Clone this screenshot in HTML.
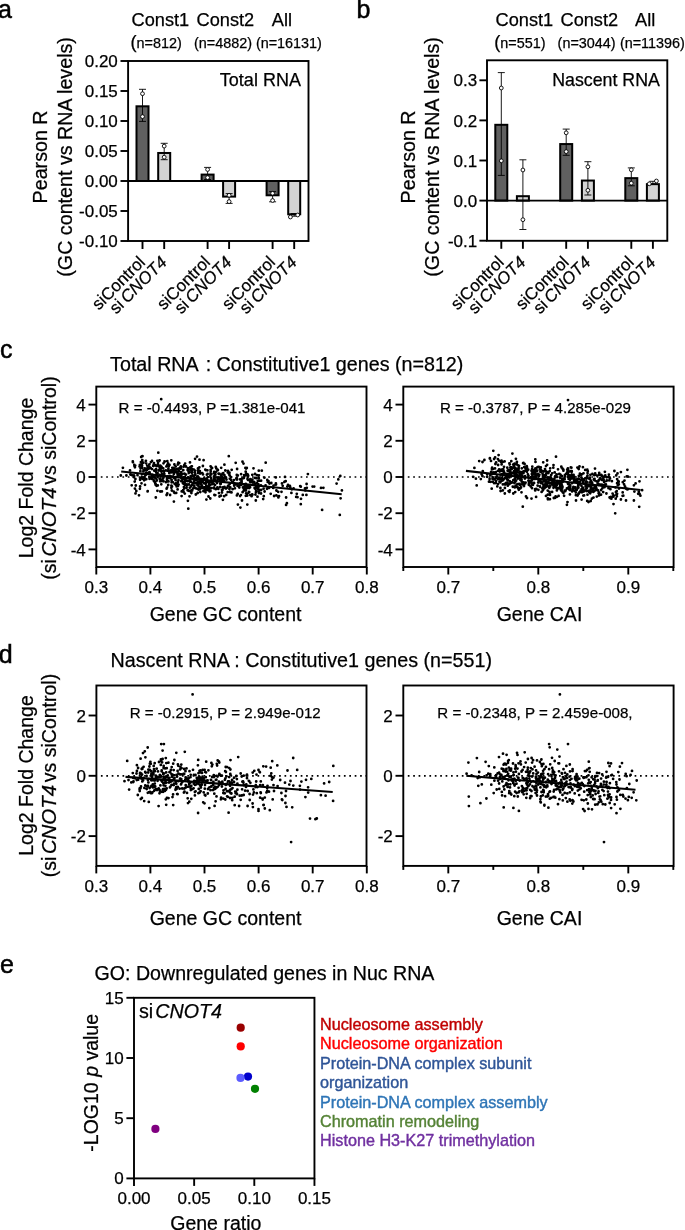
<!DOCTYPE html>
<html><head><meta charset="utf-8"><style>
html,body{margin:0;padding:0;background:#fff;}
body{width:685px;height:1230px;overflow:hidden;}
svg{display:block;font-family:"Liberation Sans", sans-serif;will-change:transform;}
text{stroke:#000;stroke-width:0.25px;}
text.L{stroke-width:0.5px;}
text.G{stroke-width:0.4px;}
</style></head><body>
<svg width="685" height="1230" viewBox="0 0 685 1230">
<rect width="685" height="1230" fill="#fff"/>
<g stroke="#000" fill="none" stroke-width="1.9">
<rect x="128.10" y="61.00" width="180.40" height="180.00"/>
</g>
<line x1="120.50" y1="61.00" x2="128.10" y2="61.00" stroke-width="1.9" stroke="#000"/>
<text x="117.80" y="67.10" font-size="17" text-anchor="end">0.20</text>
<line x1="120.50" y1="91.00" x2="128.10" y2="91.00" stroke-width="1.9" stroke="#000"/>
<text x="117.80" y="97.10" font-size="17" text-anchor="end">0.15</text>
<line x1="120.50" y1="121.00" x2="128.10" y2="121.00" stroke-width="1.9" stroke="#000"/>
<text x="117.80" y="127.10" font-size="17" text-anchor="end">0.10</text>
<line x1="120.50" y1="151.00" x2="128.10" y2="151.00" stroke-width="1.9" stroke="#000"/>
<text x="117.80" y="157.10" font-size="17" text-anchor="end">0.05</text>
<line x1="120.50" y1="181.00" x2="128.10" y2="181.00" stroke-width="1.9" stroke="#000"/>
<text x="117.80" y="187.10" font-size="17" text-anchor="end">0.00</text>
<line x1="120.50" y1="211.00" x2="128.10" y2="211.00" stroke-width="1.9" stroke="#000"/>
<text x="117.80" y="217.10" font-size="17" text-anchor="end">-0.05</text>
<line x1="120.50" y1="241.00" x2="128.10" y2="241.00" stroke-width="1.9" stroke="#000"/>
<text x="117.80" y="247.10" font-size="17" text-anchor="end">-0.10</text>
<rect x="136.50" y="106.30" width="12.0" height="74.70" fill="#606060" stroke="#000" stroke-width="2.0"/>
<line x1="142.50" y1="89.30" x2="142.50" y2="121.40" stroke-width="0.9" stroke="#000"/>
<line x1="139.00" y1="89.30" x2="146.00" y2="89.30" stroke-width="0.9" stroke="#000"/>
<line x1="139.00" y1="121.40" x2="146.00" y2="121.40" stroke-width="0.9" stroke="#000"/>
<circle cx="142.50" cy="93.70" r="1.9" fill="#fff" stroke="#000" stroke-width="0.9"/>
<circle cx="142.50" cy="116.60" r="1.9" fill="#fff" stroke="#000" stroke-width="0.9"/>
<rect x="158.20" y="152.98" width="12.0" height="28.02" fill="#d3d3d3" stroke="#000" stroke-width="2.0"/>
<line x1="164.20" y1="143.30" x2="164.20" y2="159.70" stroke-width="0.9" stroke="#000"/>
<line x1="160.70" y1="143.30" x2="167.70" y2="143.30" stroke-width="0.9" stroke="#000"/>
<line x1="160.70" y1="159.70" x2="167.70" y2="159.70" stroke-width="0.9" stroke="#000"/>
<circle cx="164.20" cy="146.10" r="1.9" fill="#fff" stroke="#000" stroke-width="0.9"/>
<circle cx="164.20" cy="157.20" r="1.9" fill="#fff" stroke="#000" stroke-width="0.9"/>
<rect x="201.60" y="174.58" width="12.0" height="6.42" fill="#606060" stroke="#000" stroke-width="2.0"/>
<line x1="207.60" y1="167.40" x2="207.60" y2="179.50" stroke-width="0.9" stroke="#000"/>
<line x1="204.10" y1="167.40" x2="211.10" y2="167.40" stroke-width="0.9" stroke="#000"/>
<line x1="204.10" y1="179.50" x2="211.10" y2="179.50" stroke-width="0.9" stroke="#000"/>
<circle cx="207.60" cy="169.50" r="1.9" fill="#fff" stroke="#000" stroke-width="0.9"/>
<circle cx="207.60" cy="177.60" r="1.9" fill="#fff" stroke="#000" stroke-width="0.9"/>
<rect x="223.10" y="181.00" width="12.0" height="15.60" fill="#d3d3d3" stroke="#000" stroke-width="2.0"/>
<line x1="229.10" y1="193.60" x2="229.10" y2="203.40" stroke-width="0.9" stroke="#000"/>
<line x1="225.60" y1="193.60" x2="232.60" y2="193.60" stroke-width="0.9" stroke="#000"/>
<line x1="225.60" y1="203.40" x2="232.60" y2="203.40" stroke-width="0.9" stroke="#000"/>
<circle cx="229.10" cy="195.30" r="1.9" fill="#fff" stroke="#000" stroke-width="0.9"/>
<circle cx="229.10" cy="201.60" r="1.9" fill="#fff" stroke="#000" stroke-width="0.9"/>
<rect x="266.60" y="181.00" width="12.0" height="14.28" fill="#606060" stroke="#000" stroke-width="2.0"/>
<line x1="272.60" y1="191.60" x2="272.60" y2="201.80" stroke-width="0.9" stroke="#000"/>
<line x1="269.10" y1="191.60" x2="276.10" y2="191.60" stroke-width="0.9" stroke="#000"/>
<line x1="269.10" y1="201.80" x2="276.10" y2="201.80" stroke-width="0.9" stroke="#000"/>
<circle cx="272.60" cy="193.30" r="1.9" fill="#fff" stroke="#000" stroke-width="0.9"/>
<circle cx="272.60" cy="200.50" r="1.9" fill="#fff" stroke="#000" stroke-width="0.9"/>
<rect x="288.20" y="181.00" width="12.0" height="33.30" fill="#d3d3d3" stroke="#000" stroke-width="2.0"/>
<line x1="294.20" y1="213.50" x2="294.20" y2="216.20" stroke-width="0.9" stroke="#000"/>
<line x1="290.70" y1="213.50" x2="297.70" y2="213.50" stroke-width="0.9" stroke="#000"/>
<line x1="290.70" y1="216.20" x2="297.70" y2="216.20" stroke-width="0.9" stroke="#000"/>
<circle cx="290.40" cy="217.00" r="1.9" fill="#fff" stroke="#000" stroke-width="0.9"/>
<circle cx="297.70" cy="215.00" r="1.9" fill="#fff" stroke="#000" stroke-width="0.9"/>
<line x1="128.10" y1="181.00" x2="308.50" y2="181.00" stroke-width="1.9" stroke="#000"/>
<line x1="142.50" y1="241.00" x2="142.50" y2="249.00" stroke-width="1.9" stroke="#000"/>
<text x="146.20" y="263.20" font-size="17" text-anchor="end" transform="rotate(-45 146.20 263.20)">siControl</text>
<line x1="164.20" y1="241.00" x2="164.20" y2="249.00" stroke-width="1.9" stroke="#000"/>
<text x="167.90" y="263.20" font-size="17" text-anchor="end" transform="rotate(-45 167.90 263.20)">si<tspan font-style="italic" dx="3">CNOT4</tspan></text>
<line x1="207.60" y1="241.00" x2="207.60" y2="249.00" stroke-width="1.9" stroke="#000"/>
<text x="211.30" y="263.20" font-size="17" text-anchor="end" transform="rotate(-45 211.30 263.20)">siControl</text>
<line x1="229.10" y1="241.00" x2="229.10" y2="249.00" stroke-width="1.9" stroke="#000"/>
<text x="232.80" y="263.20" font-size="17" text-anchor="end" transform="rotate(-45 232.80 263.20)">si<tspan font-style="italic" dx="3">CNOT4</tspan></text>
<line x1="272.60" y1="241.00" x2="272.60" y2="249.00" stroke-width="1.9" stroke="#000"/>
<text x="276.30" y="263.20" font-size="17" text-anchor="end" transform="rotate(-45 276.30 263.20)">siControl</text>
<line x1="294.20" y1="241.00" x2="294.20" y2="249.00" stroke-width="1.9" stroke="#000"/>
<text x="297.90" y="263.20" font-size="17" text-anchor="end" transform="rotate(-45 297.90 263.20)">si<tspan font-style="italic" dx="3">CNOT4</tspan></text>
<g stroke="#000" fill="none" stroke-width="1.9">
<rect x="487.00" y="60.30" width="180.30" height="180.50"/>
</g>
<line x1="479.40" y1="80.30" x2="487.00" y2="80.30" stroke-width="1.9" stroke="#000"/>
<text x="477.20" y="86.40" font-size="17" text-anchor="end">0.3</text>
<line x1="479.40" y1="120.40" x2="487.00" y2="120.40" stroke-width="1.9" stroke="#000"/>
<text x="477.20" y="126.50" font-size="17" text-anchor="end">0.2</text>
<line x1="479.40" y1="160.50" x2="487.00" y2="160.50" stroke-width="1.9" stroke="#000"/>
<text x="477.20" y="166.60" font-size="17" text-anchor="end">0.1</text>
<line x1="479.40" y1="200.60" x2="487.00" y2="200.60" stroke-width="1.9" stroke="#000"/>
<text x="477.20" y="206.70" font-size="17" text-anchor="end">0.0</text>
<line x1="479.40" y1="240.70" x2="487.00" y2="240.70" stroke-width="1.9" stroke="#000"/>
<text x="477.20" y="246.80" font-size="17" text-anchor="end">-0.1</text>
<rect x="495.30" y="124.81" width="12.0" height="75.79" fill="#606060" stroke="#000" stroke-width="2.0"/>
<line x1="501.30" y1="72.60" x2="501.30" y2="175.40" stroke-width="0.9" stroke="#000"/>
<line x1="497.80" y1="72.60" x2="504.80" y2="72.60" stroke-width="0.9" stroke="#000"/>
<line x1="497.80" y1="175.40" x2="504.80" y2="175.40" stroke-width="0.9" stroke="#000"/>
<circle cx="501.30" cy="88.00" r="1.9" fill="#fff" stroke="#000" stroke-width="0.9"/>
<circle cx="501.30" cy="160.80" r="1.9" fill="#fff" stroke="#000" stroke-width="0.9"/>
<rect x="516.90" y="196.19" width="12.0" height="4.41" fill="#d3d3d3" stroke="#000" stroke-width="2.0"/>
<line x1="522.90" y1="159.80" x2="522.90" y2="229.50" stroke-width="0.9" stroke="#000"/>
<line x1="519.40" y1="159.80" x2="526.40" y2="159.80" stroke-width="0.9" stroke="#000"/>
<line x1="519.40" y1="229.50" x2="526.40" y2="229.50" stroke-width="0.9" stroke="#000"/>
<circle cx="522.90" cy="170.00" r="1.9" fill="#fff" stroke="#000" stroke-width="0.9"/>
<circle cx="522.90" cy="219.70" r="1.9" fill="#fff" stroke="#000" stroke-width="0.9"/>
<rect x="560.20" y="144.06" width="12.0" height="56.54" fill="#606060" stroke="#000" stroke-width="2.0"/>
<line x1="566.20" y1="129.10" x2="566.20" y2="155.30" stroke-width="0.9" stroke="#000"/>
<line x1="562.70" y1="129.10" x2="569.70" y2="129.10" stroke-width="0.9" stroke="#000"/>
<line x1="562.70" y1="155.30" x2="569.70" y2="155.30" stroke-width="0.9" stroke="#000"/>
<circle cx="566.20" cy="132.80" r="1.9" fill="#fff" stroke="#000" stroke-width="0.9"/>
<circle cx="566.20" cy="151.60" r="1.9" fill="#fff" stroke="#000" stroke-width="0.9"/>
<rect x="581.90" y="180.55" width="12.0" height="20.05" fill="#d3d3d3" stroke="#000" stroke-width="2.0"/>
<line x1="587.90" y1="161.70" x2="587.90" y2="195.00" stroke-width="0.9" stroke="#000"/>
<line x1="584.40" y1="161.70" x2="591.40" y2="161.70" stroke-width="0.9" stroke="#000"/>
<line x1="584.40" y1="195.00" x2="591.40" y2="195.00" stroke-width="0.9" stroke="#000"/>
<circle cx="587.90" cy="166.80" r="1.9" fill="#fff" stroke="#000" stroke-width="0.9"/>
<circle cx="587.90" cy="190.30" r="1.9" fill="#fff" stroke="#000" stroke-width="0.9"/>
<rect x="625.30" y="178.14" width="12.0" height="22.46" fill="#606060" stroke="#000" stroke-width="2.0"/>
<line x1="631.30" y1="167.90" x2="631.30" y2="185.80" stroke-width="0.9" stroke="#000"/>
<line x1="627.80" y1="167.90" x2="634.80" y2="167.90" stroke-width="0.9" stroke="#000"/>
<line x1="627.80" y1="185.80" x2="634.80" y2="185.80" stroke-width="0.9" stroke="#000"/>
<circle cx="631.30" cy="169.80" r="1.9" fill="#fff" stroke="#000" stroke-width="0.9"/>
<circle cx="631.30" cy="183.20" r="1.9" fill="#fff" stroke="#000" stroke-width="0.9"/>
<rect x="646.90" y="184.16" width="12.0" height="16.44" fill="#d3d3d3" stroke="#000" stroke-width="2.0"/>
<line x1="652.90" y1="181.30" x2="652.90" y2="184.00" stroke-width="0.9" stroke="#000"/>
<line x1="649.40" y1="181.30" x2="656.40" y2="181.30" stroke-width="0.9" stroke="#000"/>
<line x1="649.40" y1="184.00" x2="656.40" y2="184.00" stroke-width="0.9" stroke="#000"/>
<circle cx="649.30" cy="183.80" r="1.9" fill="#fff" stroke="#000" stroke-width="0.9"/>
<circle cx="656.40" cy="181.00" r="1.9" fill="#fff" stroke="#000" stroke-width="0.9"/>
<line x1="487.00" y1="200.60" x2="667.30" y2="200.60" stroke-width="1.9" stroke="#000"/>
<line x1="501.30" y1="240.80" x2="501.30" y2="248.80" stroke-width="1.9" stroke="#000"/>
<text x="505.00" y="263.20" font-size="17" text-anchor="end" transform="rotate(-45 505.00 263.20)">siControl</text>
<line x1="522.90" y1="240.80" x2="522.90" y2="248.80" stroke-width="1.9" stroke="#000"/>
<text x="526.60" y="263.20" font-size="17" text-anchor="end" transform="rotate(-45 526.60 263.20)">si<tspan font-style="italic" dx="3">CNOT4</tspan></text>
<line x1="566.20" y1="240.80" x2="566.20" y2="248.80" stroke-width="1.9" stroke="#000"/>
<text x="569.90" y="263.20" font-size="17" text-anchor="end" transform="rotate(-45 569.90 263.20)">siControl</text>
<line x1="587.90" y1="240.80" x2="587.90" y2="248.80" stroke-width="1.9" stroke="#000"/>
<text x="591.60" y="263.20" font-size="17" text-anchor="end" transform="rotate(-45 591.60 263.20)">si<tspan font-style="italic" dx="3">CNOT4</tspan></text>
<line x1="631.30" y1="240.80" x2="631.30" y2="248.80" stroke-width="1.9" stroke="#000"/>
<text x="635.00" y="263.20" font-size="17" text-anchor="end" transform="rotate(-45 635.00 263.20)">siControl</text>
<line x1="652.90" y1="240.80" x2="652.90" y2="248.80" stroke-width="1.9" stroke="#000"/>
<text x="656.60" y="263.20" font-size="17" text-anchor="end" transform="rotate(-45 656.60 263.20)">si<tspan font-style="italic" dx="3">CNOT4</tspan></text>
<text x="-2.00" y="17.70" font-size="25" class="L">a</text>
<text x="356.50" y="17.90" font-size="25" class="L">b</text>
<text x="0.00" y="357.50" font-size="25" class="L">c</text>
<text x="-1.20" y="662.50" font-size="25" class="L">d</text>
<text x="0.00" y="972.90" font-size="25" class="L">e</text>
<text x="131.60" y="26.00" font-size="18.2">Const1</text>
<text x="196.60" y="26.00" font-size="18.2">Const2</text>
<text x="271.80" y="26.00" font-size="18.2">All</text>
<text x="130.50" y="48.10" font-size="14.4"><tspan font-size="18.2">(</tspan>n=812)</text>
<text x="194.00" y="48.10" font-size="14.4">(n=4882)</text>
<text x="255.90" y="48.10" font-size="14.4">(n=16131)</text>
<text x="495.60" y="26.00" font-size="18.2">Const1</text>
<text x="560.50" y="26.00" font-size="18.2">Const2</text>
<text x="635.00" y="26.00" font-size="18.2">All</text>
<text x="494.30" y="48.10" font-size="14.4"><tspan font-size="18.2">(</tspan>n=551)</text>
<text x="557.60" y="48.10" font-size="14.4">(n=3044)</text>
<text x="619.90" y="48.10" font-size="14.4">(n=11396)</text>
<text x="300.90" y="86.10" font-size="18" text-anchor="end">Total RNA</text>
<text x="659.90" y="86.40" font-size="17.8" text-anchor="end">Nascent RNA</text>
<text x="47.20" y="156.90" font-size="19.7" text-anchor="middle" transform="rotate(-90 47.20 156.90)" dominant-baseline="auto">Pearson R</text>
<text x="71.70" y="156.90" font-size="19.7" text-anchor="middle" transform="rotate(-90 71.70 156.90)" dominant-baseline="auto">(GC content vs RNA levels)</text>
<text x="414.90" y="156.90" font-size="19.7" text-anchor="middle" transform="rotate(-90 414.90 156.90)" dominant-baseline="auto">Pearson R</text>
<text x="439.40" y="156.90" font-size="19.7" text-anchor="middle" transform="rotate(-90 439.40 156.90)" dominant-baseline="auto">(GC content vs RNA levels)</text>
<line x1="100.80" y1="477.00" x2="366.50" y2="477.00" stroke="#000" stroke-width="1.7" stroke-dasharray="1.7 3.7"/>
<path d="M159.6 475.0h0M198.5 485.9h0M223.9 480.5h0M241.6 482.8h0M226.2 494.9h0M171.4 472.3h0M258.9 475.5h0M273.5 485.6h0M165.8 470.4h0M188.2 477.4h0M163.7 474.1h0M172.3 467.8h0M243.0 487.4h0M340.6 498.3h0M154.0 477.3h0M263.2 499.1h0M244.2 487.9h0M256.9 475.1h0M200.1 473.6h0M241.4 482.6h0M156.3 478.8h0M187.6 490.3h0M202.1 488.1h0M194.0 480.1h0M143.4 462.7h0M184.7 479.3h0M204.3 478.8h0M250.3 495.1h0M204.0 488.2h0M167.1 480.6h0M269.5 483.6h0M255.8 500.5h0M242.6 492.2h0M144.3 477.2h0M206.7 489.9h0M175.8 477.5h0M200.4 486.7h0M135.4 479.0h0M156.7 465.7h0M245.8 495.8h0M170.3 478.2h0M134.2 476.0h0M228.8 473.6h0M172.8 469.5h0M156.1 471.9h0M231.1 477.1h0M177.2 469.2h0M184.9 476.9h0M160.1 481.3h0M213.3 481.4h0M134.3 464.9h0M158.0 464.8h0M221.2 477.7h0M242.5 461.7h0M168.2 485.0h0M178.9 470.8h0M141.2 457.0h0M181.3 481.2h0M182.2 478.2h0M161.3 484.3h0M248.2 475.6h0M206.4 499.6h0M258.3 488.5h0M186.6 487.8h0M168.5 481.4h0M157.6 473.1h0M177.4 485.0h0M258.8 470.7h0M164.8 461.6h0M174.3 478.2h0M224.4 475.2h0M255.2 488.5h0M204.3 478.8h0M145.9 460.8h0M260.9 485.3h0M240.9 495.1h0M175.2 469.5h0M279.0 496.2h0M156.4 473.3h0M149.7 473.1h0M245.9 490.6h0M241.1 474.2h0M206.9 474.7h0M253.9 482.0h0M263.6 488.7h0M237.1 469.0h0M216.3 468.4h0M140.9 462.1h0M300.2 486.2h0M169.3 473.2h0M160.3 491.5h0M261.8 470.7h0M166.4 466.4h0M139.6 466.4h0M297.5 497.2h0M172.7 482.1h0M269.1 482.8h0M167.9 477.1h0M302.8 494.9h0M167.1 487.6h0M174.7 471.2h0M300.8 486.7h0M222.3 474.2h0M175.6 480.2h0M181.2 472.2h0M177.9 481.8h0M210.9 480.7h0M162.0 474.1h0M205.3 469.7h0M180.6 472.3h0M203.0 474.4h0M237.8 475.5h0M271.3 483.0h0M240.4 507.6h0M156.0 469.1h0M249.3 488.1h0M258.9 493.0h0M246.8 468.0h0M245.0 486.2h0M184.6 482.9h0M233.4 483.1h0M289.0 485.8h0M210.4 475.3h0M186.5 485.6h0M161.5 480.9h0M205.2 487.1h0M173.5 472.4h0M241.3 479.3h0M189.5 478.5h0M199.1 478.6h0M220.1 487.0h0M166.6 488.7h0M196.1 488.4h0M268.5 481.1h0M179.0 474.5h0M203.2 479.0h0M158.7 470.1h0M224.5 487.0h0M190.4 479.6h0M257.5 496.7h0M275.6 484.6h0M167.4 470.7h0M226.7 487.9h0M177.6 489.4h0M158.3 452.7h0M243.8 478.2h0M171.1 472.3h0M235.2 484.4h0M222.9 499.8h0M284.4 481.9h0M241.6 480.2h0M160.2 469.2h0M270.7 493.8h0M153.6 479.9h0M169.3 471.1h0M183.1 477.8h0M211.1 477.9h0M177.9 482.3h0M167.6 476.4h0M245.7 471.7h0M286.1 504.9h0M232.3 482.0h0M185.9 466.5h0M158.5 465.9h0M204.1 478.5h0M155.8 497.5h0M207.9 488.3h0M193.7 479.2h0M187.7 481.2h0M244.4 476.3h0M200.7 483.8h0M122.9 467.8h0M214.0 476.3h0M301.0 498.8h0M241.4 484.8h0M173.9 501.6h0M210.2 481.2h0M187.5 477.8h0M192.2 490.6h0M255.9 492.3h0M201.7 487.5h0M208.9 489.9h0M211.4 467.4h0M256.1 491.0h0M243.5 488.0h0M224.8 476.9h0M195.3 474.4h0M194.2 487.4h0M201.7 486.7h0M215.5 477.6h0M203.9 483.2h0M221.9 489.8h0M163.5 470.9h0M149.5 478.8h0M197.7 493.0h0M157.5 476.3h0M235.0 484.7h0M167.3 465.0h0M158.9 470.5h0M171.6 482.3h0M224.4 464.7h0M207.9 477.1h0M191.1 477.6h0M206.3 485.6h0M285.0 476.9h0M207.3 487.4h0M195.2 470.6h0M180.2 467.6h0M169.0 477.9h0M154.7 482.0h0M194.8 478.0h0M214.1 478.5h0M161.6 480.1h0M286.9 503.2h0M181.1 468.3h0M147.2 465.6h0M197.8 476.5h0M242.0 478.7h0M206.8 482.0h0M214.3 488.4h0M314.2 486.6h0M176.2 492.9h0M214.4 495.0h0M227.8 472.4h0M258.8 478.2h0M141.6 463.9h0M155.4 465.4h0M139.9 488.8h0M237.4 484.1h0M145.1 469.9h0M223.4 488.3h0M219.5 496.5h0M215.0 485.1h0M144.6 478.8h0M208.3 488.9h0M194.3 485.6h0M176.5 471.9h0M190.0 462.4h0M234.2 485.7h0M171.8 490.5h0M160.3 465.7h0M140.1 486.4h0M242.0 500.5h0M142.5 456.2h0M184.2 488.4h0M248.0 476.6h0M194.7 478.0h0M141.7 477.0h0M229.5 472.6h0M246.2 473.6h0M176.6 477.0h0M175.7 466.6h0M247.3 487.9h0M220.2 483.7h0M306.6 484.0h0M203.4 491.2h0M240.1 479.4h0M194.7 472.4h0M178.3 462.7h0M218.7 477.5h0M175.9 483.5h0M199.4 467.3h0M160.3 479.0h0M150.3 468.0h0M203.6 460.2h0M247.0 494.2h0M267.3 479.9h0M215.2 473.6h0M244.6 484.4h0M276.4 495.4h0M187.9 468.2h0M152.0 476.0h0M221.4 477.4h0M190.7 481.7h0M140.1 479.8h0M153.2 476.7h0M221.0 479.0h0M254.7 483.8h0M159.7 467.6h0M255.5 484.3h0M181.7 491.4h0M252.4 494.7h0M221.2 467.8h0M234.9 488.3h0M321.0 487.9h0M231.7 469.8h0M198.0 468.5h0M204.9 490.2h0M252.7 482.5h0M215.4 474.7h0M153.7 464.4h0M286.1 497.5h0M210.5 491.0h0M247.3 486.2h0M189.7 481.1h0M200.0 473.1h0M215.1 475.1h0M336.6 483.6h0M208.5 496.5h0M255.0 474.0h0M257.8 480.9h0M202.3 486.6h0M191.0 486.2h0M184.1 477.2h0M176.5 472.2h0M170.5 476.1h0M207.6 474.0h0M201.7 479.9h0M220.0 480.1h0M231.5 492.4h0M288.0 485.0h0M282.7 485.8h0M135.5 493.4h0M190.7 476.1h0M237.9 504.6h0M210.3 498.5h0M182.3 474.0h0M209.0 481.3h0M216.6 482.0h0M202.3 473.2h0M256.3 487.0h0M190.1 481.8h0M177.5 473.9h0M248.9 487.0h0M192.7 475.9h0M192.5 469.3h0M322.1 509.9h0M196.0 478.4h0M229.8 483.8h0M305.3 490.4h0M269.1 487.9h0M191.1 468.4h0M239.4 485.7h0M184.3 465.2h0M167.3 493.5h0M200.3 492.0h0M154.9 477.4h0M163.5 463.3h0M177.1 483.3h0M159.9 465.9h0M221.1 474.9h0M222.3 479.3h0M246.6 488.3h0M173.4 468.0h0M153.2 466.0h0M221.4 476.4h0M217.8 478.1h0M252.3 474.8h0M120.8 475.5h0M146.2 463.3h0M226.0 488.5h0M193.9 469.6h0M173.5 477.0h0M215.8 467.0h0M148.9 468.6h0M161.8 471.3h0M134.9 488.6h0M217.9 470.0h0M218.3 488.9h0M273.2 487.9h0M243.9 477.9h0M252.2 494.5h0M222.0 492.5h0M197.9 481.3h0M254.6 487.9h0M195.6 480.1h0M165.9 482.2h0M167.0 478.1h0M198.0 473.1h0M221.2 477.0h0M202.8 482.1h0M135.8 485.5h0M217.0 477.5h0M250.1 487.2h0M246.1 493.3h0M159.6 460.5h0M187.6 470.1h0M168.4 468.8h0M243.5 463.6h0M265.6 485.3h0M188.9 471.7h0M232.6 489.2h0M193.0 488.5h0M142.1 467.5h0M143.4 471.4h0M151.9 474.7h0M197.5 482.5h0M265.7 462.7h0M245.8 483.9h0M167.3 461.2h0M173.8 473.9h0M181.6 496.1h0M179.2 463.2h0M141.9 474.1h0M186.0 474.6h0M222.2 490.2h0M194.3 487.2h0M157.4 490.8h0M197.4 485.0h0M139.0 495.3h0M191.9 472.8h0M154.0 463.2h0M287.3 486.6h0M199.0 488.6h0M234.0 480.1h0M199.9 471.2h0M267.7 481.9h0M150.7 468.1h0M146.0 472.9h0M240.1 496.1h0M160.9 466.4h0M136.3 491.0h0M223.3 473.2h0M182.9 483.3h0M247.6 474.3h0M174.6 483.8h0M236.3 478.4h0M210.1 482.0h0M191.5 466.5h0M222.8 487.3h0M221.1 481.6h0M157.4 460.8h0M188.9 484.5h0M296.2 496.9h0M133.9 475.4h0M189.3 472.4h0M306.4 494.9h0M188.3 469.1h0M184.7 484.6h0M170.1 471.5h0M173.7 491.6h0M243.7 490.7h0M229.8 478.7h0M175.1 472.1h0M195.3 474.8h0M169.9 471.9h0M195.8 494.5h0M210.5 473.5h0M185.0 480.5h0M237.6 485.9h0M230.3 487.4h0M156.2 485.3h0M146.3 479.2h0M226.0 477.7h0M181.1 475.7h0M177.8 464.5h0M149.5 472.1h0M180.8 468.7h0M211.2 480.6h0M144.1 480.3h0M180.8 466.4h0M159.6 478.7h0M218.0 478.9h0M160.2 466.0h0M224.2 496.2h0M158.1 462.8h0M161.3 471.6h0M230.2 478.9h0M200.3 481.0h0M225.3 470.5h0M202.9 466.0h0M185.8 481.1h0M149.5 467.2h0M183.3 470.2h0M170.1 495.0h0M259.6 490.3h0M215.8 489.2h0M275.9 483.3h0M166.7 481.7h0M181.5 478.5h0M307.9 474.1h0M191.9 471.7h0M152.0 469.1h0M142.3 477.5h0M339.8 514.9h0M246.1 468.5h0M219.6 473.9h0M264.6 491.5h0M263.8 496.2h0M173.7 472.0h0M213.7 484.0h0M245.4 467.9h0M193.7 476.2h0M156.6 485.8h0M133.6 477.0h0M211.4 474.0h0M209.7 491.4h0M188.3 490.5h0M237.0 479.5h0M170.9 470.4h0M151.6 478.8h0M247.7 475.5h0M254.4 482.3h0M213.4 480.3h0M171.7 487.1h0M205.3 483.6h0M160.5 476.0h0M179.9 474.2h0M163.5 477.5h0M229.4 473.3h0M258.3 484.2h0M182.1 480.8h0M249.2 492.1h0M226.5 479.6h0M180.2 475.8h0M211.7 482.4h0M252.4 479.6h0M151.8 475.6h0M205.8 480.8h0M144.8 468.5h0M182.5 478.9h0M258.7 491.5h0M291.8 489.3h0M132.9 462.2h0M149.4 464.5h0M164.3 473.8h0M197.7 488.9h0M163.2 468.3h0M218.5 473.6h0M193.9 482.6h0M134.7 481.6h0M274.1 496.0h0M219.0 473.9h0M224.0 478.2h0M278.4 497.4h0M198.8 483.6h0M221.5 476.2h0M202.7 487.1h0M221.0 495.7h0M207.3 486.3h0M178.6 468.6h0M250.3 482.2h0M190.4 467.2h0M208.7 486.4h0M189.8 487.7h0M132.8 461.3h0M229.5 475.2h0M213.0 480.3h0M250.0 481.1h0M305.0 488.4h0M157.9 464.3h0M171.6 479.6h0M217.3 480.4h0M208.5 490.3h0M176.6 486.4h0M248.6 486.2h0M171.4 485.7h0M207.1 487.6h0M185.1 463.6h0M235.7 462.8h0M126.4 475.5h0M215.7 472.1h0M188.9 471.5h0M178.6 484.6h0M207.7 486.8h0M130.4 474.5h0M147.7 491.1h0M234.2 483.3h0M296.8 493.8h0M156.0 470.8h0M195.1 458.8h0M145.0 484.8h0M148.9 472.6h0M131.7 475.1h0M172.2 471.1h0M164.4 475.7h0M207.2 479.8h0M250.4 479.1h0M209.4 484.8h0M135.2 465.6h0M223.6 481.1h0M259.7 480.7h0M246.5 474.9h0M150.9 462.1h0M175.8 484.8h0M244.2 489.0h0M152.6 474.9h0M278.2 491.8h0M164.3 476.1h0M161.6 467.0h0M163.3 481.3h0M254.9 477.9h0M213.9 487.7h0M170.2 470.9h0M257.6 488.8h0M149.3 477.0h0M253.5 468.3h0M230.1 492.0h0M186.7 485.8h0M134.9 467.3h0M156.5 466.1h0M155.4 484.6h0M206.0 470.2h0M168.2 470.9h0M159.7 478.8h0M214.1 472.9h0M267.7 487.9h0M167.0 479.2h0M306.8 487.8h0M285.7 481.2h0M257.1 483.2h0M219.0 493.1h0M160.7 469.1h0M214.9 479.9h0M163.9 471.7h0M186.8 484.4h0M144.7 474.3h0M145.7 475.0h0M192.5 475.1h0M177.6 472.7h0M264.4 477.7h0M192.3 484.8h0M209.6 488.4h0M183.7 478.6h0M169.5 472.7h0M154.3 470.7h0M141.5 483.3h0M248.7 492.6h0M217.4 487.4h0M244.2 475.1h0M291.4 492.9h0M139.9 464.8h0M178.1 475.4h0M180.1 475.3h0M215.3 495.1h0M209.7 491.4h0M183.6 466.7h0M248.0 479.9h0M153.9 481.0h0M164.5 461.5h0M204.0 483.3h0M141.9 462.4h0M261.0 493.5h0M210.7 471.3h0M211.8 484.3h0M188.5 471.5h0M214.0 488.3h0M247.5 479.0h0M169.1 476.3h0M142.3 460.1h0M212.1 468.1h0M209.9 488.1h0M131.7 485.3h0M156.8 480.5h0M143.5 470.0h0M222.5 490.0h0M173.0 476.5h0M155.2 482.9h0M247.3 504.6h0M155.7 484.2h0M130.0 470.4h0M220.8 483.8h0M312.6 486.6h0M323.4 487.8h0M160.3 480.9h0M209.1 485.4h0M188.8 473.0h0M275.8 477.4h0M240.0 483.2h0M293.6 488.5h0M189.9 479.8h0M191.7 490.3h0M191.9 466.3h0M147.1 469.8h0M184.8 493.6h0M140.6 468.4h0M300.8 504.2h0M228.0 470.8h0M206.5 478.6h0M237.7 494.0h0M261.1 480.7h0M248.9 492.0h0M142.1 465.3h0M195.5 483.1h0M198.3 469.1h0M195.3 488.0h0M160.9 480.2h0M239.3 487.5h0M192.4 475.8h0M140.4 471.2h0M186.3 478.5h0M198.5 478.1h0M229.4 489.0h0M228.0 486.1h0M198.5 489.5h0M197.1 476.7h0M247.3 495.5h0M229.6 487.0h0M209.5 488.9h0M196.0 478.4h0M163.4 481.1h0M246.8 488.0h0M229.7 475.6h0M178.5 480.2h0M219.7 478.0h0M174.5 492.9h0M190.4 481.2h0M192.6 483.4h0M276.0 484.5h0M161.9 491.4h0M208.7 482.3h0M191.6 485.5h0M147.2 468.4h0M236.8 475.0h0M227.7 492.1h0M222.9 478.0h0M290.4 487.7h0M282.0 483.4h0M281.5 491.8h0M154.0 477.2h0M244.6 486.1h0M173.9 472.9h0M166.6 495.0h0M147.9 473.0h0M206.0 483.2h0M251.6 481.5h0M147.6 491.4h0M228.4 485.7h0M258.7 486.5h0M239.0 486.0h0M245.8 483.8h0M184.0 482.0h0M236.9 495.4h0M216.9 483.1h0M186.6 478.3h0M178.0 486.0h0M161.9 475.6h0M220.3 480.0h0M210.6 466.3h0M237.0 478.4h0M191.4 493.0h0M222.5 473.6h0M267.0 488.8h0M190.3 480.0h0M200.0 489.0h0M168.1 463.4h0M184.5 473.7h0M177.2 476.8h0M134.5 466.2h0M187.9 500.8h0M205.5 492.3h0M276.4 490.5h0M198.1 470.9h0M201.6 485.2h0M183.6 492.0h0M183.9 487.1h0M160.2 466.3h0M147.8 466.5h0M261.1 490.0h0M210.6 470.0h0M183.3 483.5h0M209.2 484.4h0M172.0 486.4h0M199.5 459.7h0M163.1 478.4h0M206.5 489.2h0M200.8 479.0h0M190.3 491.0h0M209.7 485.5h0M145.8 479.3h0M289.9 485.9h0M245.5 490.1h0M197.0 456.6h0M340.3 476.0h0M190.8 469.9h0M161.0 481.2h0M202.0 482.1h0M193.8 481.2h0M171.6 480.6h0M157.8 485.4h0M211.4 488.1h0M189.5 496.3h0M200.1 482.0h0M140.2 478.4h0M142.6 478.7h0M152.0 461.0h0M248.8 492.4h0M207.4 470.3h0M156.7 475.0h0M171.3 460.3h0M137.5 475.2h0M191.6 469.6h0M169.5 465.0h0M241.6 481.4h0M251.6 496.2h0M338.3 479.4h0M171.4 487.8h0M174.4 464.5h0M168.7 466.4h0M157.8 476.6h0M256.2 478.2h0M233.7 483.1h0M341.9 490.4h0M183.2 490.1h0M231.1 479.9h0M254.8 488.6h0M255.4 494.6h0M146.3 470.2h0M206.4 487.9h0M214.2 471.8h0M188.9 490.8h0M214.7 474.6h0M151.8 477.8h0M217.5 470.4h0M167.7 477.8h0M161.2 399.2h0M188.3 508.7h0M228.8 456.2h0" stroke="#000" stroke-width="2.8" stroke-linecap="round" fill="none"/>
<line x1="121.19" y1="471.57" x2="341.70" y2="494.19" stroke-width="2.1" stroke="#000"/>
<rect x="96.30" y="386.60" width="270.20" height="180.40" fill="none" stroke="#000" stroke-width="1.9"/>
<line x1="88.50" y1="404.60" x2="96.30" y2="404.60" stroke-width="1.9" stroke="#000"/>
<text x="85.80" y="410.70" font-size="17" text-anchor="end">4</text>
<line x1="88.50" y1="440.80" x2="96.30" y2="440.80" stroke-width="1.9" stroke="#000"/>
<text x="85.80" y="446.90" font-size="17" text-anchor="end">2</text>
<line x1="88.50" y1="477.00" x2="96.30" y2="477.00" stroke-width="1.9" stroke="#000"/>
<text x="85.80" y="483.10" font-size="17" text-anchor="end">0</text>
<line x1="88.50" y1="513.20" x2="96.30" y2="513.20" stroke-width="1.9" stroke="#000"/>
<text x="85.80" y="519.30" font-size="17" text-anchor="end">-2</text>
<line x1="88.50" y1="549.40" x2="96.30" y2="549.40" stroke-width="1.9" stroke="#000"/>
<text x="85.80" y="555.50" font-size="17" text-anchor="end">-4</text>
<line x1="96.30" y1="567.00" x2="96.30" y2="574.50" stroke-width="1.9" stroke="#000"/>
<text x="96.30" y="593.00" font-size="17" text-anchor="middle">0.3</text>
<line x1="150.40" y1="567.00" x2="150.40" y2="574.50" stroke-width="1.9" stroke="#000"/>
<text x="150.40" y="593.00" font-size="17" text-anchor="middle">0.4</text>
<line x1="204.50" y1="567.00" x2="204.50" y2="574.50" stroke-width="1.9" stroke="#000"/>
<text x="204.50" y="593.00" font-size="17" text-anchor="middle">0.5</text>
<line x1="258.60" y1="567.00" x2="258.60" y2="574.50" stroke-width="1.9" stroke="#000"/>
<text x="258.60" y="593.00" font-size="17" text-anchor="middle">0.6</text>
<line x1="312.70" y1="567.00" x2="312.70" y2="574.50" stroke-width="1.9" stroke="#000"/>
<text x="312.70" y="593.00" font-size="17" text-anchor="middle">0.7</text>
<line x1="366.80" y1="567.00" x2="366.80" y2="574.50" stroke-width="1.9" stroke="#000"/>
<text x="366.80" y="593.00" font-size="17" text-anchor="middle">0.8</text>
<text x="118.60" y="413.00" font-size="15.1">R = -0.4493, P =1.381e-041</text>
<line x1="407.80" y1="477.00" x2="673.60" y2="477.00" stroke="#000" stroke-width="1.7" stroke-dasharray="1.7 3.7"/>
<path d="M618.8 484.4h0M598.9 484.3h0M561.8 490.1h0M559.2 488.0h0M545.4 484.0h0M615.2 513.3h0M543.1 477.4h0M544.0 479.0h0M536.4 488.9h0M507.1 477.1h0M522.8 506.7h0M559.6 483.0h0M608.5 488.2h0M588.5 502.0h0M538.0 474.1h0M587.2 485.3h0M547.8 498.3h0M553.3 479.3h0M536.2 471.2h0M572.9 487.9h0M583.1 482.4h0M559.3 474.0h0M603.7 480.0h0M616.7 491.1h0M547.6 486.1h0M524.0 486.1h0M555.1 482.9h0M587.4 486.4h0M603.0 486.0h0M561.2 484.1h0M518.6 468.9h0M594.5 478.8h0M518.7 488.1h0M492.1 467.7h0M515.9 458.8h0M495.4 464.0h0M491.1 471.8h0M516.1 480.7h0M521.1 472.2h0M491.9 474.0h0M569.7 476.6h0M492.8 469.0h0M587.6 473.0h0M598.6 493.3h0M542.4 483.0h0M501.8 480.8h0M593.4 491.9h0M540.9 483.2h0M612.6 493.6h0M493.8 479.2h0M507.6 470.7h0M503.5 474.0h0M556.0 456.7h0M512.8 486.6h0M514.8 486.6h0M578.9 493.5h0M547.8 477.6h0M522.3 477.0h0M578.6 479.0h0M509.7 472.6h0M546.7 484.0h0M519.0 465.8h0M616.9 496.3h0M557.2 476.9h0M547.8 478.3h0M580.9 480.2h0M554.9 485.8h0M622.7 492.4h0M495.0 468.4h0M598.4 481.3h0M492.9 481.8h0M514.7 471.2h0M500.4 487.9h0M504.6 461.4h0M514.5 483.2h0M581.4 477.8h0M498.9 460.6h0M573.6 475.0h0M556.7 488.4h0M583.3 495.6h0M528.5 475.8h0M546.9 485.9h0M617.5 473.4h0M524.5 483.7h0M543.0 490.3h0M606.6 480.9h0M576.0 500.5h0M512.4 453.6h0M498.6 455.1h0M558.6 495.9h0M524.5 483.2h0M547.7 490.6h0M502.7 461.9h0M502.4 479.1h0M578.9 476.1h0M581.6 489.1h0M639.6 494.0h0M538.8 480.9h0M572.2 478.4h0M545.6 470.8h0M591.2 487.1h0M613.3 495.9h0M586.2 482.9h0M515.2 492.1h0M532.3 466.7h0M481.6 474.2h0M590.2 493.3h0M497.3 486.4h0M585.2 469.9h0M505.1 484.6h0M577.9 483.5h0M517.7 487.3h0M515.1 481.9h0M564.7 479.2h0M519.9 476.2h0M553.4 480.2h0M569.9 494.4h0M525.1 476.2h0M538.8 466.9h0M516.9 469.9h0M581.6 490.1h0M593.5 497.6h0M512.0 482.5h0M482.8 471.2h0M622.6 495.8h0M554.0 482.4h0M532.0 488.2h0M602.0 484.8h0M579.8 492.2h0M563.4 493.1h0M593.1 490.2h0M553.6 486.5h0M585.6 486.1h0M542.5 473.7h0M537.5 467.2h0M526.9 467.8h0M521.7 481.7h0M543.6 478.1h0M609.6 497.5h0M604.2 481.9h0M499.9 470.0h0M526.7 466.1h0M578.5 479.1h0M535.1 489.2h0M536.1 469.9h0M573.4 487.0h0M587.8 471.2h0M591.9 498.6h0M531.5 481.8h0M523.4 484.0h0M613.5 504.1h0M519.8 474.2h0M498.1 478.9h0M609.2 480.4h0M582.2 489.4h0M595.8 486.7h0M531.8 473.9h0M602.2 480.0h0M509.6 475.7h0M511.4 467.3h0M510.0 481.4h0M534.1 483.1h0M499.1 469.4h0M576.7 490.0h0M553.5 487.8h0M563.4 469.7h0M633.9 500.5h0M535.4 476.6h0M566.9 504.8h0M640.4 495.7h0M545.7 482.1h0M506.8 475.7h0M506.2 483.0h0M500.6 491.0h0M574.5 476.8h0M508.8 470.9h0M558.0 469.3h0M496.9 476.3h0M513.3 480.2h0M539.4 480.5h0M519.2 472.4h0M572.1 491.4h0M513.4 473.3h0M499.7 471.6h0M490.7 481.8h0M600.4 477.8h0M583.4 479.5h0M505.2 477.6h0M560.1 486.1h0M546.0 474.9h0M534.7 474.4h0M543.4 489.1h0M592.1 483.0h0M568.1 469.5h0M493.8 472.3h0M567.9 476.9h0M569.7 484.9h0M495.8 483.0h0M589.3 486.3h0M508.3 476.8h0M566.1 473.9h0M627.4 469.8h0M543.6 475.5h0M561.3 466.6h0M606.4 493.5h0M582.5 479.2h0M558.5 482.9h0M603.2 492.1h0M530.0 485.6h0M603.1 479.7h0M586.8 482.1h0M544.5 488.1h0M542.9 475.9h0M513.1 467.4h0M561.9 476.1h0M594.3 475.2h0M568.2 472.8h0M524.0 485.4h0M595.0 468.6h0M511.0 474.5h0M524.9 478.5h0M545.8 487.0h0M592.5 488.5h0M515.0 478.3h0M521.5 492.3h0M565.2 491.2h0M590.8 480.6h0M618.6 482.0h0M516.3 468.7h0M583.7 491.5h0M509.7 464.5h0M515.2 471.7h0M528.2 469.7h0M545.1 481.0h0M509.8 490.4h0M506.3 478.3h0M557.3 483.1h0M540.1 486.9h0M547.7 477.6h0M587.5 494.7h0M507.1 479.6h0M511.1 475.2h0M549.4 491.8h0M502.8 490.4h0M503.8 479.1h0M532.2 476.4h0M555.3 485.2h0M606.8 480.4h0M504.9 488.0h0M570.8 467.4h0M605.9 484.4h0M535.4 478.8h0M484.4 460.0h0M593.0 484.9h0M549.3 487.8h0M577.2 479.7h0M494.1 459.0h0M561.6 484.5h0M601.7 485.4h0M604.9 471.8h0M602.3 488.3h0M509.4 477.4h0M480.8 479.1h0M557.2 480.9h0M547.8 494.7h0M501.6 464.4h0M545.0 469.1h0M546.2 481.4h0M555.4 477.1h0M514.8 487.4h0M501.0 462.1h0M625.0 486.5h0M560.8 489.8h0M543.1 476.1h0M516.9 462.0h0M556.8 485.3h0M535.4 468.4h0M568.7 483.9h0M516.4 486.8h0M550.2 468.3h0M547.9 499.3h0M581.9 478.7h0M554.5 480.8h0M611.4 498.7h0M567.5 502.1h0M622.8 482.2h0M570.1 484.8h0M580.6 490.7h0M515.8 481.3h0M556.1 487.5h0M581.6 474.5h0M531.9 483.7h0M590.4 490.3h0M521.0 487.5h0M540.4 471.8h0M569.5 485.0h0M518.1 478.1h0M563.5 478.6h0M605.3 484.8h0M493.2 473.0h0M575.2 487.3h0M610.0 478.5h0M598.0 490.5h0M559.3 483.7h0M535.2 490.4h0M543.3 484.8h0M548.6 479.1h0M620.9 472.1h0M517.8 477.6h0M560.6 487.0h0M597.6 490.1h0M528.8 478.1h0M523.5 473.1h0M608.9 474.6h0M570.5 478.6h0M574.3 478.6h0M504.8 473.4h0M535.4 473.5h0M487.1 476.8h0M540.5 469.1h0M611.9 481.2h0M555.6 496.4h0M499.1 477.7h0M583.8 483.5h0M579.5 466.4h0M512.4 473.0h0M503.1 480.2h0M491.8 472.5h0M577.1 481.5h0M570.8 471.2h0M571.6 472.1h0M489.9 458.2h0M504.8 493.5h0M627.9 489.2h0M562.6 468.7h0M514.3 479.7h0M489.0 481.7h0M599.1 495.4h0M516.8 464.3h0M543.6 480.8h0M503.4 471.1h0M590.5 485.5h0M535.5 474.6h0M572.1 476.8h0M539.9 469.4h0M578.4 487.7h0M521.9 473.6h0M532.1 470.1h0M595.3 474.5h0M523.6 482.5h0M616.2 475.4h0M527.9 474.3h0M578.3 484.4h0M602.1 475.7h0M598.8 480.1h0M569.1 471.4h0M543.9 485.4h0M545.6 479.7h0M499.9 479.1h0M569.7 475.5h0M530.3 481.0h0M519.8 471.8h0M617.8 485.3h0M500.5 470.5h0M538.4 489.8h0M594.0 479.1h0M473.1 476.8h0M510.4 470.9h0M524.9 476.3h0M579.9 473.6h0M547.0 472.1h0M620.9 499.5h0M579.6 492.2h0M562.1 486.0h0M497.9 459.1h0M539.9 486.4h0M596.8 496.6h0M509.8 473.5h0M587.5 475.6h0M627.3 489.4h0M554.4 478.9h0M576.8 480.4h0M551.6 482.7h0M575.1 488.0h0M572.5 489.2h0M638.8 491.8h0M590.4 474.8h0M583.3 488.0h0M510.6 475.9h0M563.5 479.7h0M601.8 484.7h0M525.6 482.6h0M616.1 492.4h0M492.1 472.7h0M623.3 495.7h0M491.7 488.7h0M542.4 488.4h0M504.0 466.8h0M532.1 471.5h0M553.3 467.7h0M624.5 480.6h0M625.2 487.3h0M582.9 467.2h0M566.9 488.4h0M497.9 470.8h0M599.2 473.0h0M601.6 479.6h0M494.1 472.8h0M609.4 477.2h0M568.1 474.6h0M524.6 464.0h0M584.1 495.4h0M491.3 473.2h0M515.8 470.3h0M559.5 480.9h0M615.5 487.4h0M561.4 487.3h0M508.6 491.1h0M578.8 475.8h0M509.7 469.8h0M521.8 472.6h0M561.6 490.9h0M591.6 482.2h0M521.9 477.0h0M550.1 486.0h0M615.9 492.1h0M634.4 491.6h0M549.9 483.0h0M515.2 470.1h0M564.9 475.0h0M509.4 484.0h0M541.9 470.8h0M525.9 470.4h0M544.2 471.2h0M474.4 467.9h0M534.5 477.2h0M617.1 483.2h0M489.8 458.5h0M502.9 484.4h0M617.1 493.8h0M577.4 467.6h0M575.8 492.6h0M583.6 490.0h0M588.8 485.8h0M579.7 483.6h0M556.8 484.3h0M476.7 485.4h0M549.9 499.2h0M571.4 467.7h0M521.6 479.8h0M603.8 485.1h0M509.4 491.9h0M553.5 465.1h0M531.5 498.6h0M595.7 490.1h0M596.3 488.2h0M550.1 486.4h0M546.0 466.1h0M586.3 488.2h0M581.6 499.6h0M571.8 471.2h0M545.6 475.5h0M500.4 474.6h0M639.2 506.8h0M599.7 479.2h0M599.1 474.7h0M532.9 484.9h0M586.5 478.5h0M515.5 471.1h0M590.7 482.5h0M517.1 472.5h0M521.8 468.3h0M548.2 477.6h0M520.4 479.9h0M510.4 467.5h0M513.3 493.5h0M547.1 460.5h0M492.5 478.8h0M550.0 494.9h0M502.0 477.7h0M593.8 479.7h0M514.2 466.1h0M499.5 481.7h0M567.2 469.7h0M563.4 470.7h0M557.5 482.5h0M514.7 464.0h0M496.1 477.6h0M514.8 475.2h0M583.0 481.0h0M569.0 489.2h0M529.8 482.6h0M510.3 472.9h0M586.5 491.0h0M552.4 480.7h0M599.0 484.9h0M590.9 491.8h0M572.0 477.8h0M534.0 472.3h0M490.3 475.2h0M560.2 477.8h0M604.5 487.2h0M604.4 476.7h0M537.2 470.8h0M578.9 493.5h0M579.1 482.6h0M565.6 490.6h0M545.3 485.0h0M538.2 482.6h0M534.1 478.9h0M557.8 488.6h0M594.7 480.4h0M608.6 477.0h0M549.7 478.9h0M603.1 485.4h0M594.7 485.9h0M496.1 462.4h0M581.4 485.7h0M515.8 474.0h0M525.2 483.4h0M535.9 476.8h0M517.4 476.4h0M569.9 488.0h0M556.7 496.9h0M501.5 469.6h0M538.0 474.0h0M616.4 494.8h0M501.9 470.8h0M514.0 472.8h0M589.0 491.9h0M605.1 484.7h0M543.2 462.3h0M571.8 474.6h0M524.8 478.1h0M524.2 467.1h0M489.6 479.0h0M519.9 484.9h0M509.4 463.3h0M611.0 496.8h0M533.9 478.4h0M594.4 487.9h0M549.7 471.1h0M580.4 475.0h0M492.6 477.1h0M541.6 471.2h0M543.4 486.9h0M500.3 482.4h0M556.9 490.4h0M586.8 488.2h0M601.0 494.7h0M564.1 495.8h0M570.3 486.1h0M531.1 477.1h0M482.5 462.0h0M590.7 501.0h0M507.0 473.8h0M544.5 488.2h0M589.8 477.7h0M530.8 486.5h0M564.7 490.7h0M574.7 481.7h0M515.9 481.1h0M544.5 477.1h0M522.0 475.8h0M559.9 487.4h0M589.0 478.6h0M560.2 474.4h0M533.3 470.3h0M516.1 480.5h0M517.0 471.3h0M548.1 478.9h0M544.2 481.1h0M518.0 476.2h0M540.8 470.7h0M520.4 488.3h0M642.1 490.2h0M537.6 475.1h0M550.6 477.3h0M557.0 488.8h0M534.0 473.1h0M575.9 495.2h0M586.2 481.3h0M626.0 500.5h0M567.1 472.4h0M569.8 484.6h0M581.9 492.3h0M590.8 489.1h0M603.2 486.8h0M507.4 482.6h0M577.4 479.1h0M534.2 470.0h0M517.2 475.2h0M522.8 472.8h0M576.4 479.4h0M491.0 460.9h0M583.9 480.4h0M521.0 478.2h0M556.1 486.7h0M516.1 485.7h0M532.9 474.4h0M538.9 476.3h0M528.9 483.2h0M569.9 476.4h0M564.8 476.3h0M517.5 465.1h0M541.1 481.8h0M552.4 483.9h0M543.9 471.4h0M561.6 467.6h0M521.5 484.3h0M496.1 477.8h0M495.8 472.2h0M519.2 483.8h0M532.1 469.2h0M510.4 473.6h0M574.1 480.7h0M487.2 474.3h0M491.9 469.0h0M502.3 479.6h0M597.6 484.0h0M578.6 485.4h0M577.6 495.5h0M614.4 471.0h0M536.4 469.7h0M507.8 485.7h0M567.8 482.9h0M534.0 482.9h0M562.6 481.9h0M541.1 479.2h0M556.7 474.4h0M545.5 476.7h0M552.9 483.4h0M537.5 479.0h0M525.4 467.9h0M504.8 483.9h0M541.6 491.9h0M573.1 488.6h0M553.7 482.7h0M585.6 484.1h0M506.9 477.4h0M547.1 464.8h0M551.5 478.6h0M626.2 488.7h0M552.1 491.9h0M579.7 481.8h0M554.9 485.0h0M518.8 489.8h0M507.5 474.1h0M514.8 468.0h0M545.1 486.1h0M551.1 475.2h0M562.5 487.0h0M507.5 484.6h0M546.4 473.4h0M582.5 487.4h0M613.3 496.7h0M552.1 484.4h0M523.1 463.2h0M548.4 482.1h0M635.6 483.4h0M581.9 489.9h0M518.0 478.6h0M561.8 490.0h0M503.3 469.1h0M638.2 493.8h0M548.8 479.1h0M572.2 483.0h0M624.1 484.4h0M606.7 477.3h0M585.7 490.4h0M617.1 479.1h0M509.5 477.0h0M548.3 483.3h0M613.9 495.6h0M482.4 476.0h0M577.8 488.2h0M605.3 475.4h0M578.0 486.5h0M601.2 479.4h0M518.7 468.0h0M600.5 484.7h0M557.4 488.9h0M502.8 475.3h0M475.9 478.7h0M527.0 467.2h0M599.1 492.4h0M570.0 479.8h0M567.9 468.5h0M546.4 471.6h0M518.4 488.8h0M539.4 474.8h0M546.0 495.9h0M523.8 485.7h0M568.1 484.0h0M517.2 484.4h0M515.0 473.7h0M570.4 479.1h0M549.4 486.8h0M520.5 479.1h0M554.9 497.9h0M494.1 483.2h0M533.2 471.2h0M510.7 483.0h0M555.3 476.2h0M548.4 473.0h0M587.0 476.9h0M615.7 498.7h0M628.0 476.7h0M503.9 471.5h0M590.0 479.1h0M562.1 488.4h0M524.0 476.6h0M618.7 481.4h0M587.3 469.7h0M514.0 471.1h0M610.8 498.4h0M527.0 498.0h0M626.8 476.4h0M570.2 479.0h0M574.0 487.3h0M512.8 486.8h0M540.8 467.3h0M531.9 479.9h0M579.4 483.8h0M494.4 479.3h0M498.0 484.1h0M583.5 473.3h0M502.1 474.1h0M578.4 494.0h0M531.5 470.8h0M495.1 473.3h0M639.5 481.3h0M517.6 484.1h0M523.4 471.5h0M633.9 485.3h0M501.5 460.6h0M498.1 465.0h0M558.9 482.0h0M521.4 476.4h0M619.0 488.5h0M510.7 475.0h0M547.8 478.2h0M596.6 481.3h0M507.3 467.7h0M535.3 459.3h0M601.2 474.9h0M561.8 480.8h0M553.3 485.0h0M552.1 473.3h0M511.3 461.2h0M572.8 477.8h0M578.7 478.7h0M523.5 462.9h0M538.2 479.6h0M595.2 473.5h0M561.1 475.4h0M479.2 461.1h0M568.8 487.2h0M536.1 496.9h0M568.6 478.9h0M601.1 490.0h0M526.0 496.5h0M527.0 471.8h0M508.0 479.9h0M591.1 488.8h0M589.6 482.3h0M528.8 484.8h0M572.9 475.4h0M537.6 485.6h0M594.5 490.8h0M554.7 472.4h0M549.9 494.0h0M578.7 469.0h0M549.1 483.2h0M610.4 489.2h0M495.1 457.5h0M524.7 471.0h0M532.1 476.1h0M585.1 478.3h0M603.4 477.8h0M560.3 484.5h0M597.1 475.6h0M514.6 463.7h0M544.3 475.2h0M562.7 492.3h0M577.8 482.6h0M617.9 480.8h0M535.5 461.9h0M518.4 469.7h0M569.9 490.1h0M562.3 479.2h0M553.8 498.0h0M528.4 480.7h0M588.6 490.8h0M512.2 468.7h0M496.1 480.8h0M513.1 464.6h0M574.6 490.7h0M508.4 469.9h0M516.4 477.1h0M587.2 500.9h0M557.0 484.3h0M592.4 474.0h0M560.6 481.7h0M595.6 487.6h0M568.0 400.1h0M493.3 450.8h0" stroke="#000" stroke-width="2.8" stroke-linecap="round" fill="none"/>
<line x1="465.94" y1="470.85" x2="640.54" y2="490.03" stroke-width="2.1" stroke="#000"/>
<rect x="403.30" y="386.60" width="270.30" height="180.40" fill="none" stroke="#000" stroke-width="1.9"/>
<line x1="395.50" y1="404.60" x2="403.30" y2="404.60" stroke-width="1.9" stroke="#000"/>
<text x="392.80" y="410.70" font-size="17" text-anchor="end">4</text>
<line x1="395.50" y1="440.80" x2="403.30" y2="440.80" stroke-width="1.9" stroke="#000"/>
<text x="392.80" y="446.90" font-size="17" text-anchor="end">2</text>
<line x1="395.50" y1="477.00" x2="403.30" y2="477.00" stroke-width="1.9" stroke="#000"/>
<text x="392.80" y="483.10" font-size="17" text-anchor="end">0</text>
<line x1="395.50" y1="513.20" x2="403.30" y2="513.20" stroke-width="1.9" stroke="#000"/>
<text x="392.80" y="519.30" font-size="17" text-anchor="end">-2</text>
<line x1="395.50" y1="549.40" x2="403.30" y2="549.40" stroke-width="1.9" stroke="#000"/>
<text x="392.80" y="555.50" font-size="17" text-anchor="end">-4</text>
<line x1="403.30" y1="567.00" x2="403.30" y2="571.00" stroke-width="1.9" stroke="#000"/>
<line x1="448.30" y1="567.00" x2="448.30" y2="574.50" stroke-width="1.9" stroke="#000"/>
<text x="448.30" y="593.00" font-size="17" text-anchor="middle">0.7</text>
<line x1="493.30" y1="567.00" x2="493.30" y2="571.00" stroke-width="1.9" stroke="#000"/>
<line x1="538.30" y1="567.00" x2="538.30" y2="574.50" stroke-width="1.9" stroke="#000"/>
<text x="538.30" y="593.00" font-size="17" text-anchor="middle">0.8</text>
<line x1="583.30" y1="567.00" x2="583.30" y2="571.00" stroke-width="1.9" stroke="#000"/>
<line x1="628.30" y1="567.00" x2="628.30" y2="574.50" stroke-width="1.9" stroke="#000"/>
<text x="628.30" y="593.00" font-size="17" text-anchor="middle">0.9</text>
<line x1="673.30" y1="567.00" x2="673.30" y2="571.00" stroke-width="1.9" stroke="#000"/>
<text x="439.90" y="413.00" font-size="15.1">R = -0.3787, P = 4.285e-029</text>
<text x="110.10" y="370.80" font-size="19.7">Total RNA<tspan dx="1.2"> </tspan><tspan dx="1.3">:</tspan> Constitutive1 genes (n=812)</text>
<text x="32.60" y="478.00" font-size="19.5" text-anchor="middle" transform="rotate(-90 32.60 478.00)" dominant-baseline="auto">Log2 Fold Change</text>
<text x="56.20" y="478.00" font-size="19.5" text-anchor="middle" transform="rotate(-90 56.20 478.00)" dominant-baseline="auto">(si<tspan font-style="italic" font-size="20.4" dx="2.5">CNOT4</tspan><tspan dx="-2.6"> vs siControl)</tspan></text>
<text x="225.60" y="621.00" font-size="19.5" text-anchor="middle">Gene GC content</text>
<text x="539.50" y="621.00" font-size="19.5" text-anchor="middle">Gene CAI</text>
<line x1="100.90" y1="775.80" x2="366.50" y2="775.80" stroke="#000" stroke-width="1.7" stroke-dasharray="1.7 3.7"/>
<path d="M156.3 789.2h0M205.2 771.9h0M133.3 777.9h0M324.1 783.4h0M242.1 789.3h0M213.9 788.0h0M201.7 784.3h0M232.5 788.1h0M161.6 771.3h0M224.8 793.3h0M225.3 799.5h0M193.0 769.8h0M248.8 780.8h0M285.0 782.7h0M207.8 793.5h0M178.4 781.2h0M214.3 793.7h0M258.5 809.2h0M217.1 765.5h0M264.8 808.5h0M217.6 776.6h0M161.9 791.8h0M258.5 770.0h0M173.7 770.1h0M169.5 777.8h0M205.0 785.0h0M218.9 761.3h0M204.5 803.3h0M162.1 781.7h0M154.8 780.6h0M206.2 761.7h0M171.6 774.5h0M262.7 799.6h0M210.9 779.8h0M200.4 770.3h0M190.7 786.3h0M153.7 765.9h0M193.8 783.7h0M178.3 765.8h0M205.2 780.8h0M209.5 787.3h0M223.3 793.1h0M129.1 789.6h0M166.2 804.8h0M208.0 789.0h0M178.5 773.6h0M165.3 779.4h0M201.6 784.9h0M163.6 777.0h0M155.1 786.6h0M216.4 787.7h0M241.7 776.5h0M249.6 794.0h0M252.7 772.6h0M151.7 785.7h0M246.0 786.9h0M153.4 773.4h0M240.7 799.8h0M146.6 776.0h0M176.6 788.9h0M176.5 775.0h0M128.5 780.1h0M258.5 810.9h0M271.8 776.8h0M235.2 791.7h0M164.9 790.9h0M151.1 786.3h0M237.4 789.7h0M266.1 766.6h0M264.8 797.6h0M132.8 773.1h0M221.0 775.7h0M182.2 788.5h0M170.5 786.6h0M191.3 785.9h0M202.5 776.7h0M159.0 762.0h0M237.0 794.2h0M213.8 775.1h0M166.9 777.2h0M188.0 781.3h0M134.9 778.2h0M145.4 757.3h0M142.3 781.4h0M164.6 789.0h0M208.4 770.3h0M154.0 769.1h0M219.4 774.0h0M140.5 788.3h0M230.3 773.9h0M243.7 795.0h0M190.5 777.2h0M179.6 788.7h0M201.2 780.4h0M141.9 798.0h0M273.5 777.6h0M267.2 788.1h0M149.4 766.5h0M224.9 779.8h0M232.2 800.2h0M148.2 772.5h0M226.6 784.0h0M140.1 772.9h0M133.3 782.1h0M149.6 788.1h0M286.5 806.9h0M237.4 783.6h0M216.5 796.4h0M236.3 776.0h0M202.6 778.9h0M163.2 779.6h0M230.4 769.5h0M176.3 787.2h0M142.3 768.9h0M300.0 789.6h0M223.5 790.4h0M220.9 799.3h0M260.2 785.1h0M143.6 766.8h0M190.6 788.1h0M153.3 774.4h0M163.7 766.0h0M225.6 789.0h0M181.3 764.6h0M207.4 782.3h0M187.0 779.0h0M154.3 787.1h0M150.4 761.8h0M189.3 801.7h0M243.0 781.3h0M190.7 774.8h0M236.5 793.5h0M185.3 779.6h0M225.7 767.0h0M250.4 782.8h0M158.0 771.4h0M257.5 787.1h0M165.8 758.1h0M227.1 767.1h0M165.1 768.4h0M201.0 772.6h0M188.1 781.0h0M156.7 768.7h0M195.0 784.9h0M168.4 762.7h0M259.6 771.9h0M273.5 785.1h0M168.5 798.1h0M213.2 785.0h0M287.5 770.5h0M194.9 792.0h0M222.7 783.5h0M195.6 791.3h0M160.0 791.5h0M205.8 777.2h0M169.0 782.5h0M210.5 790.2h0M163.1 789.2h0M143.5 777.8h0M230.0 798.0h0M165.4 777.5h0M196.4 784.3h0M230.0 789.9h0M202.0 772.9h0M181.2 774.3h0M145.6 772.7h0M234.0 781.9h0M180.1 774.4h0M245.1 790.7h0M174.1 783.7h0M199.8 779.8h0M226.5 776.3h0M246.6 775.5h0M200.0 785.6h0M215.1 786.9h0M253.0 794.6h0M212.4 764.6h0M220.6 783.5h0M198.7 777.5h0M136.9 765.2h0M209.3 808.1h0M260.1 797.7h0M243.7 775.7h0M151.2 775.5h0M203.7 792.3h0M216.8 763.8h0M254.3 770.8h0M229.9 792.1h0M247.0 778.2h0M231.4 793.5h0M145.2 771.9h0M155.8 775.6h0M221.1 797.7h0M166.2 772.4h0M230.5 774.7h0M219.3 762.6h0M177.8 787.0h0M124.5 781.2h0M227.7 791.2h0M152.2 777.0h0M173.9 775.2h0M155.7 778.2h0M139.7 788.4h0M215.9 779.9h0M176.3 752.8h0M151.4 774.0h0M184.6 788.3h0M145.3 785.3h0M229.1 781.5h0M272.7 799.4h0M164.1 773.6h0M173.1 794.4h0M225.8 784.9h0M134.7 778.0h0M150.8 763.8h0M260.8 781.4h0M301.4 781.6h0M269.8 810.2h0M167.8 775.5h0M170.4 781.7h0M147.1 786.7h0M271.3 773.3h0M234.1 777.7h0M262.5 798.7h0M174.5 778.1h0M163.1 791.8h0M221.9 786.5h0M184.5 791.6h0M215.6 801.3h0M216.4 779.7h0M159.5 793.3h0M252.6 803.5h0M266.5 792.4h0M141.7 769.0h0M281.4 793.0h0M143.1 780.3h0M161.7 770.5h0M204.6 769.8h0M160.9 776.8h0M180.5 767.1h0M213.0 790.1h0M151.3 780.3h0M238.2 757.1h0M160.1 775.1h0M142.1 774.6h0M211.4 763.0h0M235.6 793.2h0M184.1 769.0h0M243.4 782.5h0M198.7 788.9h0M227.0 791.3h0M142.6 767.8h0M230.7 793.3h0M154.2 790.8h0M320.9 795.2h0M152.2 776.9h0M277.3 765.4h0M214.6 805.9h0M198.2 759.9h0M285.5 796.0h0M230.5 760.1h0M171.3 780.6h0M151.4 780.3h0M200.6 791.2h0M138.2 779.7h0M180.1 769.4h0M229.2 777.1h0M172.9 774.8h0M158.7 788.4h0M310.0 818.6h0M173.8 785.0h0M199.5 771.0h0M181.3 783.6h0M256.5 774.6h0M163.8 779.1h0M147.9 779.9h0M195.5 775.0h0M231.2 782.3h0M308.1 787.3h0M150.5 779.1h0M186.5 768.4h0M141.3 773.7h0M169.9 787.4h0M136.5 773.5h0M211.8 766.3h0M162.7 789.9h0M234.7 805.2h0M196.7 783.2h0M150.6 793.1h0M263.7 805.0h0M225.4 778.3h0M177.6 794.2h0M152.4 792.5h0M198.1 813.0h0M177.0 776.7h0M281.9 799.5h0M166.9 797.9h0M247.0 774.6h0M204.8 794.9h0M185.9 787.4h0M225.2 771.2h0M177.6 771.0h0M269.0 791.7h0M260.6 792.3h0M181.0 784.4h0M290.5 781.0h0M165.5 780.9h0M171.8 774.6h0M140.8 776.6h0M201.7 778.2h0M243.8 785.0h0M171.6 781.2h0M141.0 786.5h0M194.2 780.9h0M160.8 764.9h0M161.1 760.9h0M222.3 781.6h0M228.0 781.5h0M159.3 776.9h0M286.0 791.0h0M173.2 805.1h0M162.6 759.0h0M151.8 793.2h0M140.6 758.7h0M280.2 780.0h0M182.3 782.0h0M190.5 782.5h0M180.1 778.7h0M232.3 797.8h0M188.6 778.4h0M239.1 806.0h0M249.7 800.0h0M289.3 784.6h0M151.0 771.3h0M299.9 785.8h0M133.5 781.3h0M247.7 791.0h0M227.1 796.4h0M198.5 773.2h0M166.7 768.2h0M175.5 789.8h0M311.3 778.9h0M256.8 793.2h0M162.6 750.6h0M190.8 790.1h0M171.7 767.1h0M188.0 803.1h0M325.6 795.7h0M189.5 771.2h0M256.2 781.5h0M144.2 801.1h0M174.4 760.0h0M203.2 802.3h0M219.2 774.5h0M166.7 788.3h0M214.0 777.1h0M206.1 780.8h0M206.0 772.4h0M141.3 778.6h0M203.6 779.9h0M201.7 772.6h0M263.4 805.1h0M216.6 775.8h0M192.5 789.0h0M163.3 773.1h0M139.7 791.0h0M172.1 776.8h0M165.4 785.8h0M198.4 793.2h0M183.9 792.6h0M306.0 779.8h0M236.9 779.1h0M139.6 789.2h0M267.5 785.8h0M165.8 799.3h0M154.6 790.2h0M143.0 753.1h0M199.9 778.0h0M140.8 799.0h0M196.8 777.9h0M305.4 797.1h0M171.0 781.5h0M147.9 785.9h0M236.0 791.8h0M255.8 785.2h0M186.2 777.6h0M159.8 775.1h0M270.7 767.7h0M262.9 785.2h0M136.9 770.9h0M181.3 779.1h0M176.3 783.8h0M153.1 780.3h0M173.2 763.7h0M155.2 786.5h0M217.7 786.8h0M221.9 775.7h0M177.9 764.5h0M211.3 786.5h0M246.3 784.3h0M189.1 784.2h0M217.7 760.5h0M247.6 806.0h0M184.8 751.8h0M219.0 785.2h0M147.8 792.8h0M252.9 807.1h0M188.2 786.7h0M213.4 781.9h0M232.1 780.0h0M170.9 770.0h0M333.1 800.9h0M229.3 768.1h0M229.9 783.3h0M189.0 781.5h0M197.9 765.3h0M148.0 785.9h0M154.7 763.2h0M154.8 783.6h0M136.8 780.1h0M155.9 776.6h0M203.7 778.2h0M253.4 789.4h0M164.6 777.3h0M270.7 775.7h0M185.7 785.2h0M282.3 800.0h0M152.8 784.5h0M308.2 792.6h0M148.8 801.9h0M228.6 812.7h0M169.5 772.2h0M157.6 780.8h0M181.5 768.1h0M231.6 789.0h0M239.7 795.7h0M200.0 784.8h0M157.3 777.0h0M158.6 806.1h0M255.7 787.1h0M172.5 797.1h0M260.8 793.0h0M161.0 780.3h0M227.8 796.8h0M200.9 787.5h0M148.4 782.4h0M249.3 781.3h0M230.4 784.3h0M193.6 788.3h0M215.3 788.8h0M168.8 778.7h0M197.2 779.6h0M293.3 785.6h0M241.8 795.5h0M218.9 781.7h0M240.7 773.5h0M154.9 771.2h0M199.6 776.9h0M207.6 780.3h0M174.2 780.0h0M196.6 780.9h0M223.3 798.6h0M198.3 783.6h0M242.4 781.7h0M150.0 791.8h0M184.2 788.6h0M316.8 818.5h0M147.7 747.5h0M185.5 771.2h0M131.3 782.4h0M127.2 760.9h0M137.8 795.0h0M166.3 782.7h0M148.4 769.7h0M144.8 751.3h0M151.3 771.1h0M231.9 783.1h0M205.4 795.5h0M220.9 782.6h0M143.2 778.4h0M274.0 791.0h0M177.1 794.1h0M204.8 788.7h0M166.3 763.1h0M165.1 790.2h0M285.4 803.0h0M154.0 771.4h0M211.1 780.2h0M163.2 774.0h0M185.6 777.3h0M253.9 792.4h0M138.1 768.0h0M230.1 785.8h0M152.9 787.4h0M157.0 790.1h0M149.1 792.2h0M187.0 792.9h0M154.7 779.2h0M212.2 777.0h0M267.3 790.8h0M225.9 772.0h0M259.9 772.3h0M214.7 789.0h0M263.3 766.3h0M152.7 773.4h0M166.0 789.8h0M272.2 761.2h0M165.4 776.7h0M297.2 769.9h0M163.6 768.0h0M271.9 779.6h0M163.6 785.3h0M199.7 792.6h0M170.3 772.4h0M277.6 786.1h0M163.4 783.4h0M160.9 759.5h0M194.9 795.4h0M183.5 774.0h0M171.5 785.0h0M160.4 785.4h0M149.9 763.7h0M175.8 788.7h0M162.6 791.6h0M193.9 774.9h0M153.9 786.1h0M146.7 789.1h0M164.4 782.7h0M191.3 798.8h0M184.2 774.0h0M159.6 789.9h0M202.8 781.1h0M176.0 781.6h0M198.9 781.0h0M187.7 798.3h0M161.0 776.5h0M149.7 769.8h0M162.1 762.3h0M202.8 769.9h0M292.2 807.3h0M173.2 779.9h0M234.7 796.7h0M329.2 782.0h0M144.4 787.9h0M140.0 773.7h0M192.6 694.4h0M291.1 842.1h0M315.4 819.2h0M293.2 758.0h0M333.3 765.9h0M161.2 744.1h0M163.9 744.1h0" stroke="#000" stroke-width="2.8" stroke-linecap="round" fill="none"/>
<line x1="125.51" y1="776.86" x2="332.72" y2="791.93" stroke-width="2.1" stroke="#000"/>
<rect x="96.40" y="685.50" width="270.10" height="180.40" fill="none" stroke="#000" stroke-width="1.9"/>
<line x1="88.60" y1="715.50" x2="96.40" y2="715.50" stroke-width="1.9" stroke="#000"/>
<text x="85.90" y="721.60" font-size="17" text-anchor="end">2</text>
<line x1="88.60" y1="775.80" x2="96.40" y2="775.80" stroke-width="1.9" stroke="#000"/>
<text x="85.90" y="781.90" font-size="17" text-anchor="end">0</text>
<line x1="88.60" y1="836.10" x2="96.40" y2="836.10" stroke-width="1.9" stroke="#000"/>
<text x="85.90" y="842.20" font-size="17" text-anchor="end">-2</text>
<line x1="96.30" y1="865.90" x2="96.30" y2="873.40" stroke-width="1.9" stroke="#000"/>
<text x="96.30" y="892.00" font-size="17" text-anchor="middle">0.3</text>
<line x1="150.40" y1="865.90" x2="150.40" y2="873.40" stroke-width="1.9" stroke="#000"/>
<text x="150.40" y="892.00" font-size="17" text-anchor="middle">0.4</text>
<line x1="204.50" y1="865.90" x2="204.50" y2="873.40" stroke-width="1.9" stroke="#000"/>
<text x="204.50" y="892.00" font-size="17" text-anchor="middle">0.5</text>
<line x1="258.60" y1="865.90" x2="258.60" y2="873.40" stroke-width="1.9" stroke="#000"/>
<text x="258.60" y="892.00" font-size="17" text-anchor="middle">0.6</text>
<line x1="312.70" y1="865.90" x2="312.70" y2="873.40" stroke-width="1.9" stroke="#000"/>
<text x="312.70" y="892.00" font-size="17" text-anchor="middle">0.7</text>
<line x1="366.80" y1="865.90" x2="366.80" y2="873.40" stroke-width="1.9" stroke="#000"/>
<text x="366.80" y="892.00" font-size="17" text-anchor="middle">0.8</text>
<text x="129.70" y="718.00" font-size="15.1">R = -0.2915, P = 2.949e-012</text>
<line x1="407.80" y1="775.80" x2="673.60" y2="775.80" stroke="#000" stroke-width="1.7" stroke-dasharray="1.7 3.7"/>
<path d="M508.2 784.3h0M501.4 774.9h0M608.5 786.8h0M543.3 789.8h0M508.2 773.8h0M588.8 761.7h0M577.8 790.6h0M589.7 771.8h0M593.1 799.0h0M541.5 792.0h0M539.9 762.0h0M543.7 790.9h0M606.5 771.8h0M545.8 796.6h0M564.1 779.0h0M575.1 776.9h0M494.4 780.7h0M544.5 769.1h0M622.8 795.0h0M561.3 779.9h0M533.7 787.3h0M602.2 774.5h0M499.9 777.1h0M511.3 794.5h0M513.0 763.5h0M609.9 783.2h0M591.6 777.3h0M617.3 787.3h0M555.3 797.7h0M523.7 794.3h0M540.8 802.4h0M520.5 761.5h0M490.3 775.6h0M522.0 790.5h0M626.9 788.1h0M490.3 774.1h0M559.0 771.3h0M538.3 778.6h0M502.6 777.1h0M627.9 800.2h0M527.7 769.8h0M536.3 779.0h0M583.3 777.3h0M524.0 778.9h0M518.5 777.9h0M606.4 784.7h0M626.6 776.2h0M587.7 795.1h0M540.0 776.5h0M609.6 766.2h0M532.1 776.5h0M583.8 800.3h0M568.6 787.1h0M611.0 763.4h0M619.0 790.0h0M602.4 789.9h0M616.3 782.1h0M566.5 781.7h0M591.0 785.9h0M601.4 786.1h0M593.3 779.3h0M597.3 804.3h0M594.1 791.0h0M608.3 796.1h0M547.8 779.7h0M565.1 783.5h0M597.8 780.1h0M583.7 777.6h0M486.6 775.3h0M545.2 786.4h0M579.9 783.9h0M611.2 775.3h0M503.4 769.1h0M553.7 791.6h0M575.5 779.6h0M535.4 786.4h0M552.7 772.0h0M508.8 760.1h0M544.4 805.0h0M556.4 789.4h0M530.1 798.2h0M539.7 780.4h0M535.6 793.0h0M630.6 774.9h0M567.3 793.4h0M554.7 761.0h0M535.9 778.1h0M540.8 796.5h0M580.8 788.3h0M499.1 783.5h0M577.5 776.5h0M562.6 789.8h0M558.0 804.2h0M515.6 765.2h0M525.7 778.6h0M617.8 788.0h0M588.8 779.8h0M565.2 785.8h0M555.2 781.3h0M503.7 807.4h0M569.7 799.5h0M537.0 795.5h0M549.1 769.2h0M524.4 790.8h0M531.6 758.0h0M527.5 781.4h0M579.4 786.7h0M514.1 778.8h0M567.4 801.7h0M559.1 763.4h0M506.6 754.8h0M561.9 785.6h0M500.1 774.3h0M608.3 763.0h0M510.0 787.4h0M517.5 754.9h0M566.1 775.9h0M541.1 784.1h0M498.1 780.7h0M497.7 773.3h0M536.3 786.8h0M573.4 801.5h0M598.8 802.3h0M584.2 791.7h0M541.1 775.0h0M499.3 788.9h0M594.6 799.2h0M595.3 776.1h0M527.9 759.0h0M488.3 773.7h0M508.9 767.6h0M514.3 796.2h0M551.2 774.8h0M632.0 770.9h0M609.7 803.0h0M584.9 771.1h0M503.4 771.0h0M572.4 789.5h0M557.0 788.9h0M598.3 792.9h0M536.4 788.6h0M590.3 793.1h0M609.2 796.8h0M565.8 798.1h0M625.7 774.0h0M548.1 774.2h0M560.8 782.3h0M590.7 782.1h0M558.4 763.3h0M538.3 784.5h0M597.9 788.2h0M574.9 786.2h0M540.9 796.5h0M589.0 768.4h0M527.3 783.1h0M555.8 785.0h0M589.8 791.0h0M587.0 769.9h0M541.4 759.5h0M603.8 784.6h0M581.6 799.8h0M531.5 796.2h0M529.5 772.7h0M536.8 780.0h0M517.0 752.8h0M508.0 762.8h0M519.4 791.3h0M540.4 801.8h0M528.5 774.4h0M535.5 781.9h0M506.5 783.2h0M572.6 771.1h0M505.4 771.6h0M485.6 761.8h0M509.6 770.0h0M538.0 779.6h0M562.9 777.1h0M519.7 780.6h0M616.5 784.5h0M607.6 788.0h0M571.5 778.8h0M513.3 775.3h0M548.0 794.2h0M599.1 773.1h0M490.2 776.2h0M541.8 774.2h0M562.5 794.9h0M612.0 775.0h0M538.0 781.1h0M517.9 777.6h0M591.2 789.3h0M533.2 781.3h0M522.8 789.1h0M528.3 772.4h0M507.2 775.5h0M540.4 799.2h0M530.3 771.3h0M628.8 796.9h0M515.1 791.7h0M574.7 793.4h0M552.7 780.9h0M510.7 777.0h0M544.0 786.6h0M532.5 786.2h0M555.6 775.5h0M530.0 784.3h0M544.9 777.6h0M540.4 787.4h0M597.7 780.7h0M567.0 784.6h0M496.2 775.1h0M617.4 791.5h0M566.1 784.4h0M553.9 779.3h0M513.2 783.1h0M618.3 772.1h0M527.8 767.6h0M599.9 786.6h0M501.7 768.7h0M603.9 781.7h0M600.9 783.9h0M609.6 794.3h0M619.5 779.5h0M545.9 782.2h0M503.6 786.5h0M548.2 795.9h0M557.5 788.7h0M504.7 776.7h0M526.4 783.2h0M503.6 764.7h0M506.4 768.9h0M545.9 766.9h0M526.8 780.1h0M542.8 795.3h0M559.4 799.2h0M548.8 780.9h0M541.8 766.2h0M591.5 790.5h0M544.3 785.4h0M526.0 771.8h0M513.3 782.4h0M562.0 773.7h0M599.5 796.6h0M508.1 761.1h0M619.9 766.7h0M471.6 775.5h0M542.3 781.3h0M524.7 752.3h0M551.5 784.0h0M576.0 780.3h0M488.8 766.1h0M584.3 786.0h0M625.5 798.6h0M468.4 762.6h0M584.6 811.0h0M551.5 781.2h0M521.9 786.1h0M479.2 772.0h0M513.0 781.1h0M595.2 804.7h0M572.3 803.6h0M506.1 764.5h0M601.1 778.6h0M551.2 797.8h0M597.5 804.4h0M526.3 797.8h0M496.7 789.5h0M509.3 791.1h0M554.1 790.0h0M553.5 774.0h0M518.5 763.3h0M582.8 784.2h0M579.3 778.7h0M533.2 773.4h0M550.2 764.3h0M591.8 789.0h0M608.0 795.0h0M588.5 775.3h0M608.0 791.6h0M559.7 790.8h0M559.5 756.6h0M595.0 783.5h0M496.2 777.4h0M589.4 792.2h0M543.2 778.5h0M551.3 781.5h0M560.3 782.4h0M559.4 787.2h0M466.6 773.7h0M481.8 784.4h0M530.6 796.2h0M604.3 795.2h0M558.4 783.5h0M595.3 781.6h0M572.1 790.1h0M529.1 776.1h0M521.6 771.2h0M599.9 799.4h0M589.1 789.2h0M590.8 797.1h0M499.1 772.7h0M597.0 776.1h0M595.6 794.0h0M561.2 786.9h0M468.8 796.6h0M537.0 790.4h0M577.1 780.4h0M616.5 813.2h0M530.1 789.8h0M518.7 792.3h0M539.6 783.4h0M540.0 777.7h0M543.3 773.5h0M517.8 796.5h0M561.2 782.6h0M531.1 781.8h0M513.4 772.3h0M559.7 790.2h0M636.7 780.5h0M520.9 764.4h0M516.6 793.0h0M509.1 776.5h0M529.5 776.0h0M536.7 792.3h0M569.9 780.1h0M522.3 792.2h0M569.8 764.5h0M547.1 796.5h0M611.1 797.4h0M567.3 774.5h0M513.7 774.9h0M511.1 770.0h0M563.5 777.8h0M561.7 773.1h0M528.2 781.9h0M557.3 786.1h0M594.0 785.1h0M542.9 784.7h0M588.2 783.4h0M581.8 782.8h0M526.6 790.3h0M522.6 769.9h0M556.1 781.4h0M605.3 804.5h0M534.6 766.7h0M515.2 768.7h0M552.2 768.0h0M575.0 778.6h0M561.3 784.7h0M468.9 806.1h0M556.0 780.9h0M512.3 780.8h0M588.5 808.9h0M590.1 794.4h0M561.0 785.3h0M602.8 804.2h0M479.9 777.3h0M494.3 767.4h0M543.1 770.8h0M505.5 770.6h0M536.5 773.9h0M583.7 777.9h0M554.2 772.2h0M543.4 764.0h0M525.3 788.6h0M550.0 791.4h0M598.6 791.3h0M572.6 769.2h0M529.9 780.7h0M531.5 791.0h0M535.6 785.9h0M567.1 777.9h0M636.3 800.3h0M565.4 778.4h0M563.5 769.2h0M587.8 803.5h0M594.6 779.6h0M502.3 781.4h0M510.3 784.3h0M526.9 784.6h0M611.0 799.9h0M511.5 780.3h0M526.7 793.8h0M546.2 787.3h0M565.0 772.8h0M553.7 771.8h0M514.2 784.5h0M586.0 771.1h0M555.1 777.8h0M549.7 747.3h0M507.2 771.8h0M517.5 768.6h0M515.7 766.4h0M608.7 797.4h0M592.7 795.4h0M551.4 783.4h0M578.0 783.1h0M589.1 782.3h0M499.0 757.1h0M503.0 753.7h0M593.8 790.4h0M564.7 793.0h0M518.9 810.9h0M573.6 784.7h0M557.3 749.6h0M570.5 783.4h0M595.5 790.8h0M493.7 793.1h0M606.3 786.5h0M547.4 786.4h0M553.5 797.0h0M550.4 781.9h0M563.4 788.6h0M533.1 760.2h0M538.1 779.4h0M536.1 770.5h0M579.0 784.4h0M541.5 764.1h0M504.3 789.4h0M502.1 795.4h0M514.5 778.8h0M541.3 774.2h0M577.3 786.9h0M525.7 762.6h0M584.4 777.5h0M611.1 808.1h0M528.5 785.9h0M537.0 760.4h0M501.8 791.9h0M554.5 796.9h0M526.7 778.3h0M551.5 776.3h0M513.4 807.9h0M552.9 770.3h0M518.9 774.0h0M565.8 783.1h0M549.5 791.9h0M530.8 768.1h0M561.9 782.3h0M620.4 808.8h0M541.3 776.0h0M576.6 774.2h0M589.5 768.1h0M516.5 783.7h0M543.2 779.7h0M600.2 796.3h0M522.7 777.9h0M505.7 784.9h0M510.3 793.0h0M511.1 768.6h0M500.1 778.9h0M572.5 800.1h0M491.3 784.7h0M623.3 796.5h0M616.9 799.7h0M544.4 805.5h0M551.5 776.2h0M586.3 799.5h0M576.6 778.5h0M522.6 792.2h0M560.3 792.4h0M509.9 769.0h0M500.9 774.9h0M522.7 787.6h0M569.6 776.6h0M476.9 758.1h0M504.9 763.7h0M510.8 770.7h0M505.1 796.2h0M566.4 765.9h0M548.4 807.7h0M509.2 793.2h0M631.7 797.8h0M478.3 785.8h0M579.2 795.1h0M507.6 786.9h0M504.2 778.0h0M570.0 771.4h0M512.6 779.1h0M549.8 798.7h0M590.1 791.0h0M515.8 780.8h0M564.3 786.4h0M527.2 788.0h0M591.7 787.0h0M535.9 776.7h0M620.3 794.9h0M606.4 776.8h0M555.8 785.6h0M592.0 809.3h0M570.4 800.8h0M609.8 788.1h0M607.4 798.7h0M537.4 781.1h0M570.7 786.9h0M544.6 786.6h0M616.5 796.9h0M606.1 777.7h0M562.8 800.4h0M515.9 771.7h0M601.3 801.7h0M633.6 792.3h0M597.0 772.9h0M504.2 763.9h0M534.8 789.7h0M543.7 792.3h0M629.3 784.0h0M477.7 778.1h0M538.0 772.6h0M595.0 777.0h0M524.1 767.1h0M542.2 777.3h0M547.3 785.3h0M518.6 787.8h0M569.9 792.3h0M532.5 769.3h0M614.7 804.3h0M544.9 777.7h0M486.4 798.5h0M536.2 782.8h0M578.5 784.5h0M570.3 787.5h0M579.5 789.3h0M606.6 781.9h0M583.1 809.1h0M608.0 776.9h0M572.3 788.8h0M586.4 777.2h0M587.2 790.2h0M590.0 782.9h0M544.0 778.3h0M514.6 785.6h0M552.0 757.8h0M529.3 778.6h0M480.4 803.2h0M508.5 780.3h0M600.6 800.0h0M596.5 786.4h0M546.1 782.0h0M521.5 771.7h0M552.3 779.0h0M536.0 785.6h0M613.1 778.9h0M532.1 762.6h0M603.6 791.1h0M559.9 694.4h0M604.0 842.1h0M549.1 744.1h0M568.0 744.1h0M622.0 763.1h0" stroke="#000" stroke-width="2.8" stroke-linecap="round" fill="none"/>
<line x1="466.30" y1="775.80" x2="635.50" y2="789.82" stroke-width="2.1" stroke="#000"/>
<rect x="403.30" y="685.50" width="270.30" height="180.40" fill="none" stroke="#000" stroke-width="1.9"/>
<line x1="395.50" y1="715.50" x2="403.30" y2="715.50" stroke-width="1.9" stroke="#000"/>
<text x="392.80" y="721.60" font-size="17" text-anchor="end">2</text>
<line x1="395.50" y1="775.80" x2="403.30" y2="775.80" stroke-width="1.9" stroke="#000"/>
<text x="392.80" y="781.90" font-size="17" text-anchor="end">0</text>
<line x1="395.50" y1="836.10" x2="403.30" y2="836.10" stroke-width="1.9" stroke="#000"/>
<text x="392.80" y="842.20" font-size="17" text-anchor="end">-2</text>
<line x1="403.30" y1="865.90" x2="403.30" y2="869.90" stroke-width="1.9" stroke="#000"/>
<line x1="448.30" y1="865.90" x2="448.30" y2="873.40" stroke-width="1.9" stroke="#000"/>
<text x="448.30" y="892.00" font-size="17" text-anchor="middle">0.7</text>
<line x1="493.30" y1="865.90" x2="493.30" y2="869.90" stroke-width="1.9" stroke="#000"/>
<line x1="538.30" y1="865.90" x2="538.30" y2="873.40" stroke-width="1.9" stroke="#000"/>
<text x="538.30" y="892.00" font-size="17" text-anchor="middle">0.8</text>
<line x1="583.30" y1="865.90" x2="583.30" y2="869.90" stroke-width="1.9" stroke="#000"/>
<line x1="628.30" y1="865.90" x2="628.30" y2="873.40" stroke-width="1.9" stroke="#000"/>
<text x="628.30" y="892.00" font-size="17" text-anchor="middle">0.9</text>
<line x1="673.30" y1="865.90" x2="673.30" y2="869.90" stroke-width="1.9" stroke="#000"/>
<text x="437.30" y="718.00" font-size="15.1">R = -0.2348, P = 2.459e-008,</text>
<text x="110.60" y="666.80" font-size="19.7">Nascent RNA : Constitutive1 genes (n=551)</text>
<text x="32.60" y="775.50" font-size="19.5" text-anchor="middle" transform="rotate(-90 32.60 775.50)" dominant-baseline="auto">Log2 Fold Change</text>
<text x="56.20" y="775.50" font-size="19.5" text-anchor="middle" transform="rotate(-90 56.20 775.50)" dominant-baseline="auto">(si<tspan font-style="italic" font-size="20.4" dx="2.5">CNOT4</tspan><tspan dx="-2.6"> vs siControl)</tspan></text>
<text x="225.60" y="925.30" font-size="19.5" text-anchor="middle">Gene GC content</text>
<text x="539.50" y="925.30" font-size="19.5" text-anchor="middle">Gene CAI</text>
<rect x="134.0" y="997.80" width="180.45" height="180.60" fill="none" stroke="#000" stroke-width="1.9"/>
<line x1="126.40" y1="1178.40" x2="134.00" y2="1178.40" stroke-width="1.9" stroke="#000"/>
<text x="123.70" y="1184.30" font-size="17" text-anchor="end">0</text>
<line x1="126.40" y1="1118.20" x2="134.00" y2="1118.20" stroke-width="1.9" stroke="#000"/>
<text x="123.70" y="1124.10" font-size="17" text-anchor="end">5</text>
<line x1="126.40" y1="1058.00" x2="134.00" y2="1058.00" stroke-width="1.9" stroke="#000"/>
<text x="123.70" y="1063.90" font-size="17" text-anchor="end">10</text>
<line x1="126.40" y1="997.80" x2="134.00" y2="997.80" stroke-width="1.9" stroke="#000"/>
<text x="123.70" y="1003.70" font-size="17" text-anchor="end">15</text>
<line x1="134.00" y1="1178.40" x2="134.00" y2="1185.90" stroke-width="1.9" stroke="#000"/>
<text x="134.00" y="1204.20" font-size="17" text-anchor="middle">0.00</text>
<line x1="194.15" y1="1178.40" x2="194.15" y2="1185.90" stroke-width="1.9" stroke="#000"/>
<text x="194.15" y="1204.20" font-size="17" text-anchor="middle">0.05</text>
<line x1="254.30" y1="1178.40" x2="254.30" y2="1185.90" stroke-width="1.9" stroke="#000"/>
<text x="254.30" y="1204.20" font-size="17" text-anchor="middle">0.10</text>
<line x1="314.45" y1="1178.40" x2="314.45" y2="1185.90" stroke-width="1.9" stroke="#000"/>
<text x="314.45" y="1204.20" font-size="17" text-anchor="middle">0.15</text>
<circle cx="240.7" cy="1027.7" r="4.1" fill="#990000"/>
<circle cx="240.7" cy="1046.4" r="4.1" fill="#ff0000"/>
<circle cx="248.0" cy="1076.6" r="4.1" fill="#0000cc"/>
<circle cx="240.5" cy="1077.9" r="4.1" fill="#5c5cff"/>
<circle cx="255.0" cy="1088.8" r="4.1" fill="#008000"/>
<circle cx="155.4" cy="1128.9" r="4.1" fill="#800080"/>
<text x="94.60" y="979.80" font-size="19.6">GO: Downregulated genes in Nuc RNA</text>
<text x="139.00" y="1017.80" font-size="19.7">si<tspan font-style="italic" dx="2">CNOT4</tspan></text>
<text x="98.40" y="1082.80" font-size="19.5" text-anchor="middle" transform="rotate(-90 98.40 1082.80)" dominant-baseline="auto">-LOG10 <tspan font-style="italic">p</tspan> value</text>
<text x="215.80" y="1229.60" font-size="19.5" text-anchor="middle">Gene ratio</text>
<text x="320.00" y="1030.00" font-size="16.2" fill="#c00000" class="G" style="stroke:#c00000">Nucleosome assembly</text>
<text x="320.00" y="1049.40" font-size="16.2" fill="#ff0000" class="G" style="stroke:#ff0000">Nucleosome organization</text>
<text x="320.00" y="1068.80" font-size="16.2" fill="#2f5597" class="G" style="stroke:#2f5597">Protein-DNA complex subunit</text>
<text x="320.00" y="1088.20" font-size="16.2" fill="#2f5597" class="G" style="stroke:#2f5597">organization</text>
<text x="320.00" y="1107.60" font-size="16.2" fill="#2e75b6" class="G" style="stroke:#2e75b6">Protein-DNA complex assembly</text>
<text x="320.00" y="1127.00" font-size="16.2" fill="#548235" class="G" style="stroke:#548235">Chromatin remodeling</text>
<text x="320.00" y="1146.40" font-size="16.2" fill="#7030a0" class="G" style="stroke:#7030a0">Histone H3-K27 trimethylation</text>
</svg>
</body></html>
